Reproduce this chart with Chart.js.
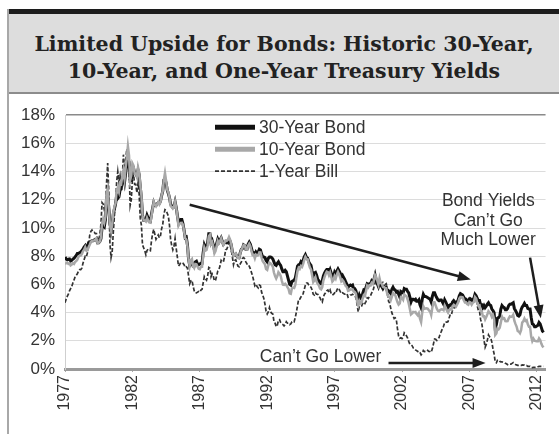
<!DOCTYPE html>
<html>
<head>
<meta charset="utf-8">
<script src="https://cdn.jsdelivr.net/npm/chart.js@4/dist/chart.umd.min.js"></script>
<style>
  html, body { margin: 0; padding: 0; background: #fff; }
  body { width: 559px; height: 434px; position: relative; overflow: hidden; }
  .topbar { position: absolute; left: 7px; top: 9px; right: 0; height: 5px; background: #1c1c1c; }
  .leftbar { position: absolute; left: 7px; top: 9px; bottom: 0; width: 2px; background: #a8a8a8; }
  .title {
    position: absolute; left: 9px; top: 14px; right: 0; height: 80px;
    box-sizing: border-box; padding-top: 17px;
    background: #dddddd; border-bottom: 2px solid #8c8c8c;
    font-family: "DejaVu Serif", serif; font-weight: bold; font-size: 20.5px;
    line-height: 27px; color: #222; text-align: center;
  }
  #wrap { position: absolute; left: 9px; top: 95px; }
</style>
</head>
<body>
<div class="topbar"></div>
<div class="leftbar"></div>
<div class="title">Limited Upside for Bonds: Historic 30-Year,<br>10-Year, and One-Year Treasury Yields</div>
<div id="wrap"><canvas id="chart" width="550" height="339"></canvas></div>
<script>
// monthly readings, first value = January 1977
const startYear = 1977;
const tickYears = [1977, 1982, 1987, 1992, 1997, 2002, 2007, 2012];
const seriesNames = ['30-Year Bond', '10-Year Bond', '1-Year Bill'];

const bond30 = [
  7.95, 7.80, 7.75, 7.78, 7.80, 7.65, 7.70, 7.80, 7.85, 7.95, 8.05, 8.20,
  8.20, 8.25, 8.30, 8.40, 8.50, 8.65, 8.75, 8.55, 8.70, 8.95, 8.95, 9.05,
  9.10, 9.10, 9.15, 9.20, 9.20, 8.95, 8.95, 9.05, 9.25, 10.05, 10.20, 10.10,
  10.60, 12.15, 12.50, 11.40, 10.35, 9.80, 10.25, 11.00, 11.35, 11.70, 12.30, 12.10,
  12.20, 12.70, 12.75, 13.40, 13.65, 13.25, 13.90, 14.50, 14.90, 14.70, 13.45, 13.40,
  14.20, 14.25, 13.90, 13.85, 13.70, 14.10, 13.80, 12.90, 12.15, 10.90, 10.55, 10.55,
  10.60, 10.90, 10.70, 10.55, 10.50, 11.00, 11.40, 11.80, 11.60, 11.60, 11.70, 11.80,
  11.75, 11.90, 12.30, 12.60, 13.40, 13.45, 13.20, 12.70, 12.45, 12.15, 11.70, 11.55,
  11.45, 11.50, 11.85, 11.45, 10.90, 10.40, 10.55, 10.60, 10.60, 10.30, 9.85, 9.30,
  9.35, 8.80, 7.80, 7.35, 7.50, 7.55, 7.30, 7.30, 7.60, 7.65, 7.45, 7.40,
  7.45, 7.50, 7.50, 8.25, 8.80, 8.60, 8.70, 8.95, 9.60, 9.60, 8.95, 9.10,
  8.80, 8.45, 8.60, 8.90, 9.20, 9.00, 9.15, 9.30, 9.05, 8.85, 8.95, 9.00,
  8.95, 9.00, 9.20, 9.05, 8.80, 8.30, 8.05, 8.10, 8.15, 8.00, 7.90, 7.90,
  8.25, 8.50, 8.55, 8.80, 8.75, 8.50, 8.50, 8.85, 9.00, 8.85, 8.55, 8.25,
  8.25, 8.10, 8.30, 8.20, 8.30, 8.50, 8.45, 8.15, 7.95, 7.95, 7.90, 7.70,
  7.60, 7.85, 7.95, 7.95, 7.90, 7.80, 7.60, 7.40, 7.35, 7.50, 7.60, 7.45,
  7.35, 7.10, 6.90, 6.90, 7.00, 6.90, 6.60, 6.30, 6.00, 5.95, 6.20, 6.25,
  6.30, 6.45, 6.85, 7.30, 7.40, 7.40, 7.60, 7.50, 7.70, 7.95, 8.10, 7.90,
  7.85, 7.60, 7.45, 7.35, 6.95, 6.60, 6.80, 6.85, 6.65, 6.35, 6.25, 6.05,
  6.05, 6.25, 6.60, 6.80, 6.95, 7.05, 7.05, 6.85, 7.05, 6.80, 6.50, 6.55,
  6.85, 6.70, 6.95, 7.10, 6.95, 6.80, 6.55, 6.65, 6.50, 6.35, 6.15, 6.00,
  5.80, 5.90, 5.95, 5.90, 5.95, 5.70, 5.70, 5.55, 5.20, 5.00, 5.25, 5.05,
  5.15, 5.35, 5.60, 5.55, 5.80, 6.05, 6.00, 6.05, 6.05, 6.25, 6.15, 6.35,
  6.65, 6.25, 6.05, 5.85, 6.15, 5.95, 5.85, 5.70, 5.85, 5.80, 5.80, 5.50,
  5.55, 5.45, 5.35, 5.65, 5.80, 5.65, 5.60, 5.45, 5.50, 5.30, 5.10, 5.50,
  5.45, 5.40, 5.70, 5.65, 5.65, 5.50, 5.40, 5.10, 4.75, 4.95, 4.95, 4.90,
  4.95, 4.80, 4.80, 4.90, 4.55, 4.35, 4.95, 5.30, 5.15, 5.15, 5.10, 5.05,
  5.00, 4.95, 4.75, 5.15, 5.40, 5.40, 5.20, 5.05, 4.90, 4.85, 4.90, 4.90,
  4.75, 4.60, 4.90, 4.75, 4.55, 4.35, 4.50, 4.55, 4.50, 4.75, 4.85, 4.75,
  4.65, 4.75, 4.90, 5.20, 5.35, 5.30, 5.25, 5.10, 4.95, 4.95, 4.80, 4.80,
  4.95, 4.95, 4.80, 4.95, 5.00, 5.30, 5.20, 5.00, 4.85, 4.85, 4.55, 4.55,
  4.35, 4.50, 4.35, 4.45, 4.60, 4.70, 4.55, 4.50, 4.25, 4.15, 4.00, 2.90,
  3.15, 3.60, 3.65, 3.75, 4.25, 4.50, 4.40, 4.35, 4.20, 4.20, 4.30, 4.50,
  4.60, 4.60, 4.65, 4.70, 4.30, 4.15, 4.00, 3.80, 3.75, 3.85, 4.20, 4.40,
  4.50, 4.65, 4.50, 4.50, 4.30, 4.25, 4.25, 3.65, 3.20, 3.15, 3.00, 3.00,
  3.05, 3.10, 3.30, 3.20, 2.95, 2.70, 2.60
];

const bond10 = [
  7.45, 7.50, 7.55, 7.45, 7.50, 7.35, 7.40, 7.50, 7.45, 7.60, 7.65, 7.75,
  7.96, 8.03, 8.04, 8.15, 8.35, 8.46, 8.64, 8.41, 8.42, 8.64, 8.81, 9.01,
  9.10, 9.10, 9.12, 9.18, 9.25, 8.91, 8.95, 9.03, 9.33, 10.30, 10.65, 10.39,
  10.80, 12.41, 12.75, 11.47, 10.18, 9.78, 10.25, 11.10, 11.51, 11.75, 12.68, 12.84,
  12.57, 13.19, 13.12, 13.68, 14.10, 13.47, 14.28, 14.94, 15.80, 15.15, 13.39, 13.72,
  14.59, 14.43, 13.86, 13.87, 13.62, 14.30, 13.95, 13.06, 12.34, 10.91, 10.55, 10.54,
  10.46, 10.72, 10.51, 10.40, 10.38, 10.85, 11.38, 11.85, 11.65, 11.54, 11.69, 11.83,
  11.67, 11.84, 12.32, 12.63, 13.41, 13.90, 13.36, 12.72, 12.52, 12.16, 11.57, 11.50,
  11.38, 11.51, 11.86, 11.43, 10.85, 10.16, 10.31, 10.33, 10.37, 10.24, 9.78, 9.26,
  9.19, 8.70, 7.78, 7.30, 7.71, 7.80, 7.30, 7.17, 7.45, 7.43, 7.25, 7.11,
  7.08, 7.25, 7.25, 8.02, 8.61, 8.40, 8.45, 8.76, 9.42, 9.52, 8.86, 8.99,
  8.67, 8.21, 8.37, 8.72, 9.09, 8.92, 9.06, 9.26, 8.98, 8.80, 8.96, 9.11,
  9.09, 9.17, 9.36, 9.18, 8.86, 8.28, 8.02, 8.11, 8.19, 8.01, 7.87, 7.84,
  8.21, 8.47, 8.59, 8.79, 8.76, 8.48, 8.47, 8.75, 8.89, 8.72, 8.39, 8.08,
  8.09, 7.85, 8.11, 8.04, 8.07, 8.28, 8.27, 7.90, 7.65, 7.53, 7.42, 7.09,
  7.03, 7.34, 7.54, 7.48, 7.39, 7.26, 6.84, 6.59, 6.42, 6.59, 6.87, 6.77,
  6.60, 6.26, 5.98, 5.97, 6.04, 5.96, 5.81, 5.68, 5.36, 5.33, 5.72, 5.77,
  5.75, 5.97, 6.48, 6.97, 7.18, 7.10, 7.30, 7.24, 7.46, 7.74, 7.96, 7.81,
  7.78, 7.47, 7.20, 7.06, 6.63, 6.17, 6.28, 6.49, 6.20, 6.04, 5.93, 5.71,
  5.65, 5.81, 6.27, 6.51, 6.74, 6.91, 6.87, 6.64, 6.83, 6.53, 6.20, 6.30,
  6.58, 6.42, 6.69, 6.89, 6.71, 6.49, 6.22, 6.30, 6.21, 6.03, 5.88, 5.81,
  5.54, 5.57, 5.65, 5.64, 5.65, 5.50, 5.46, 5.34, 4.81, 4.53, 4.83, 4.65,
  4.72, 5.00, 5.23, 5.18, 5.54, 5.90, 5.79, 5.94, 5.92, 6.11, 6.03, 6.28,
  6.66, 6.52, 6.26, 5.99, 6.44, 6.10, 6.05, 5.83, 5.80, 5.74, 5.72, 5.24,
  5.16, 5.10, 4.89, 5.14, 5.39, 5.28, 5.24, 4.97, 4.73, 4.57, 4.65, 5.09,
  5.04, 4.91, 5.28, 5.21, 5.16, 4.93, 4.65, 4.26, 3.87, 3.94, 4.05, 4.03,
  4.05, 3.90, 3.81, 3.96, 3.57, 3.33, 3.98, 4.45, 4.27, 4.29, 4.30, 4.27,
  4.15, 4.08, 3.83, 4.35, 4.72, 4.73, 4.50, 4.28, 4.13, 4.10, 4.19, 4.23,
  4.22, 4.17, 4.50, 4.34, 4.14, 4.00, 4.18, 4.26, 4.20, 4.46, 4.54, 4.47,
  4.42, 4.57, 4.72, 4.99, 5.11, 5.11, 5.09, 4.88, 4.72, 4.73, 4.60, 4.56,
  4.76, 4.72, 4.56, 4.69, 4.75, 5.10, 5.00, 4.67, 4.52, 4.53, 4.15, 4.10,
  3.74, 3.74, 3.51, 3.68, 3.88, 4.10, 4.01, 3.89, 3.69, 3.81, 3.53, 2.42,
  2.52, 2.87, 2.82, 2.93, 3.29, 3.72, 3.56, 3.59, 3.40, 3.39, 3.40, 3.59,
  3.73, 3.69, 3.73, 3.85, 3.42, 3.20, 3.01, 2.70, 2.65, 2.54, 2.76, 3.29,
  3.39, 3.58, 3.41, 3.46, 3.17, 3.00, 3.00, 2.30, 1.98, 2.15, 2.01, 1.98,
  1.97, 1.97, 2.17, 2.05, 1.80, 1.62, 1.53
];

const bill1 = [
  4.70, 4.95, 5.15, 5.30, 5.55, 5.70, 5.85, 6.10, 6.30, 6.55, 6.65, 6.75,
  6.95, 7.05, 7.05, 7.15, 7.50, 7.75, 8.00, 7.95, 8.25, 8.70, 9.50, 9.75,
  9.85, 9.70, 9.70, 9.60, 9.60, 9.10, 9.20, 9.50, 10.30, 11.80, 11.70, 11.30,
  11.40, 13.20, 14.60, 12.50, 8.90, 7.90, 8.30, 9.70, 10.90, 11.80, 13.30, 14.00,
  13.30, 13.70, 12.90, 13.50, 15.20, 14.00, 14.80, 15.60, 15.40, 14.40, 11.60, 12.00,
  13.40, 13.80, 13.10, 13.10, 12.50, 13.20, 12.40, 10.70, 10.20, 8.80, 8.60, 8.40,
  8.10, 8.40, 8.50, 8.45, 8.40, 9.10, 9.60, 9.90, 9.55, 9.20, 9.35, 9.50,
  9.30, 9.45, 9.95, 10.25, 10.95, 11.30, 11.25, 11.05, 10.85, 10.20, 9.20, 8.75,
  8.45, 8.70, 9.25, 8.55, 7.95, 7.30, 7.40, 7.55, 7.55, 7.50, 7.40, 7.20,
  7.25, 7.15, 6.60, 6.05, 6.25, 6.30, 5.90, 5.55, 5.40, 5.40, 5.45, 5.50,
  5.45, 5.60, 5.65, 6.10, 6.55, 6.40, 6.30, 6.60, 7.20, 7.15, 6.55, 6.75,
  6.60, 6.25, 6.30, 6.60, 6.95, 7.05, 7.30, 7.70, 7.60, 7.60, 7.95, 8.45,
  8.50, 8.70, 9.00, 8.80, 8.45, 7.95, 7.40, 7.70, 7.75, 7.50, 7.30, 7.25,
  7.45, 7.60, 7.85, 7.90, 7.80, 7.60, 7.45, 7.30, 7.30, 7.10, 6.85, 6.60,
  6.25, 5.90, 6.00, 5.85, 5.75, 5.95, 5.90, 5.45, 5.25, 5.00, 4.60, 4.10,
  3.90, 4.05, 4.35, 4.05, 3.95, 3.90, 3.40, 3.25, 3.00, 3.10, 3.45, 3.50,
  3.30, 3.20, 3.15, 3.05, 3.15, 3.35, 3.25, 3.25, 3.15, 3.20, 3.35, 3.40,
  3.35, 3.65, 4.05, 4.50, 4.95, 4.95, 5.10, 5.20, 5.35, 5.65, 5.95, 6.10,
  6.10, 5.95, 5.85, 5.80, 5.60, 5.30, 5.25, 5.40, 5.30, 5.30, 5.15, 5.05,
  4.85, 4.75, 5.10, 5.30, 5.40, 5.55, 5.60, 5.45, 5.60, 5.35, 5.25, 5.30,
  5.40, 5.35, 5.60, 5.75, 5.65, 5.50, 5.35, 5.40, 5.35, 5.30, 5.30, 5.35,
  5.10, 5.15, 5.25, 5.25, 5.30, 5.25, 5.20, 5.05, 4.60, 4.05, 4.45, 4.45,
  4.45, 4.65, 4.75, 4.65, 4.80, 5.05, 5.00, 5.15, 5.20, 5.40, 5.50, 5.80,
  6.10, 6.20, 6.20, 6.15, 6.35, 6.15, 6.05, 6.15, 6.10, 6.00, 6.05, 5.60,
  4.81, 4.68, 4.30, 3.98, 3.78, 3.58, 3.62, 3.47, 2.82, 2.33, 2.18, 2.22,
  2.16, 2.23, 2.57, 2.48, 2.35, 2.20, 1.96, 1.76, 1.72, 1.65, 1.49, 1.45,
  1.36, 1.30, 1.24, 1.27, 1.18, 1.01, 1.12, 1.31, 1.24, 1.25, 1.34, 1.31,
  1.24, 1.24, 1.19, 1.43, 1.78, 2.12, 2.10, 2.02, 2.12, 2.23, 2.50, 2.67,
  2.86, 3.03, 3.30, 3.32, 3.33, 3.36, 3.64, 3.87, 3.85, 4.18, 4.33, 4.35,
  4.45, 4.68, 4.77, 4.90, 5.00, 5.16, 5.22, 5.08, 4.97, 5.01, 5.01, 4.94,
  5.06, 5.05, 4.92, 4.93, 4.91, 4.96, 4.96, 4.47, 4.14, 4.10, 3.50, 3.26,
  2.71, 2.05, 1.54, 1.74, 2.06, 2.42, 2.28, 2.18, 1.91, 1.42, 1.07, 0.49,
  0.44, 0.62, 0.64, 0.55, 0.50, 0.51, 0.48, 0.46, 0.40, 0.37, 0.31, 0.37,
  0.35, 0.35, 0.40, 0.45, 0.37, 0.32, 0.29, 0.26, 0.26, 0.23, 0.25, 0.29,
  0.27, 0.29, 0.26, 0.25, 0.19, 0.18, 0.19, 0.11, 0.10, 0.11, 0.11, 0.12,
  0.12, 0.16, 0.19, 0.18, 0.19, 0.19, 0.19
];

const FONT = '"Liberation Sans", Arial, sans-serif';
const TEXT = '#333';

// month index -> decimal year
function toPoints(values) {
  return values.map((v, i) => ({ x: startYear + i / 12, y: v }));
}

function drawArrow(ctx, x1, y1, x2, y2) {
  const a = Math.atan2(y2 - y1, x2 - x1);
  const head = 13, half = 5;
  ctx.beginPath();
  ctx.moveTo(x1, y1);
  ctx.lineTo(x2 - Math.cos(a) * head * 0.8, y2 - Math.sin(a) * head * 0.8);
  ctx.stroke();
  ctx.beginPath();
  ctx.moveTo(x2, y2);
  ctx.lineTo(x2 - head * Math.cos(a) + half * Math.sin(a), y2 - head * Math.sin(a) - half * Math.cos(a));
  ctx.lineTo(x2 - head * Math.cos(a) - half * Math.sin(a), y2 - head * Math.sin(a) + half * Math.cos(a));
  ctx.closePath();
  ctx.fill();
}

// legend inside the plot, top middle
const insideLegend = {
  id: 'insideLegend',
  afterDatasetsDraw(chart) {
    const ctx = chart.ctx;
    const area = chart.chartArea;
    const x0 = area.left + 150, y0 = area.top + 12, rowH = 22;
    ctx.save();
    ctx.font = '17.5px ' + FONT;
    ctx.textBaseline = 'middle';
    chart.data.datasets.forEach((ds, i) => {
      const y = y0 + i * rowH;
      ctx.strokeStyle = ds.borderColor;
      ctx.lineWidth = ds.legendWidth;
      ctx.setLineDash(ds.borderDash || []);
      ctx.beginPath();
      ctx.moveTo(x0, y);
      ctx.lineTo(x0 + 40, y);
      ctx.stroke();
      ctx.setLineDash([]);
      ctx.fillStyle = TEXT;
      ctx.fillText(ds.label, x0 + 44, y + 1);
    });
    ctx.restore();
  }
};

// arrows and notes, placed in data units
const notes = {
  id: 'notes',
  afterDatasetsDraw(chart) {
    const ctx = chart.ctx;
    const xs = chart.scales.x, ys = chart.scales.y;
    const px = v => xs.getPixelForValue(v);
    const py = v => ys.getPixelForValue(v);
    ctx.save();
    ctx.strokeStyle = '#1e1e1e';
    ctx.fillStyle = '#1e1e1e';
    ctx.lineWidth = 2.5;
    drawArrow(ctx, px(1986.25), py(11.65), px(2007.1), py(6.35));
    drawArrow(ctx, px(2011.5), py(7.9), px(2012.3), py(3.6));
    drawArrow(ctx, px(2001.0), py(0.42), px(2008.2), py(0.42));

    ctx.fillStyle = TEXT;
    ctx.font = '17.5px ' + FONT;
    ctx.textBaseline = 'middle';
    ctx.textAlign = 'center';
    ctx.fillText('Bond Yields', px(2008.4), py(11.9));
    ctx.fillText('Can\u2019t Go', px(2008.4), py(10.5));
    ctx.fillText('Much Lower', px(2008.4), py(9.15));
    ctx.textAlign = 'left';
    ctx.fillText('Can\u2019t Go Lower', px(1991.45), py(0.85));
    ctx.restore();
  }
};

new Chart(document.getElementById('chart'), {
  type: 'line',
  data: {
    datasets: [
      { label: seriesNames[0], data: toPoints(bond30), borderColor: '#111', borderWidth: 3, legendWidth: 5, order: 1 },
      { label: seriesNames[1], data: toPoints(bond10), borderColor: '#a8a8a8', borderWidth: 2.5, legendWidth: 5, order: 0 },
      { label: seriesNames[2], data: toPoints(bill1), borderColor: '#333', borderWidth: 1.7, borderDash: [4, 2], legendWidth: 1.7, order: 2 }
    ]
  },
  options: {
    responsive: false,
    animation: false,
    layout: { padding: { top: 19, left: 0, right: 0, bottom: 0 } },
    elements: { point: { radius: 0 }, line: { tension: 0, fill: false } },
    plugins: { legend: { display: false }, tooltip: { enabled: false }, title: { display: false } },
    scales: {
      x: {
        type: 'linear',
        min: startYear,
        max: 2012.65,
        afterBuildTicks: axis => { axis.ticks = tickYears.map(v => ({ value: v })); },
        afterFit: axis => { axis.height = 65; },
        grid: { drawOnChartArea: false, drawTicks: true, tickLength: 3, color: '#aaa' },
        border: { color: '#9a9a9a', width: 3 },
        ticks: {
          minRotation: 90, maxRotation: 90, autoSkip: false, padding: 3,
          color: TEXT, font: { family: FONT, size: 16 },
          callback: v => String(v)
        }
      },
      y: {
        min: 0,
        max: 18,
        afterFit: axis => { axis.width = 56; },
        grid: {
          drawTicks: false,
          color: c => (c.tick && c.tick.value === 18 ? '#8a8a8a' : '#dcdcdc'),
          lineWidth: c => (c.tick && c.tick.value === 18 ? 1.5 : 1)
        },
        border: { color: '#cfcfcf', width: 1 },
        ticks: {
          stepSize: 2, padding: 10,
          color: TEXT, font: { family: FONT, size: 17 },
          callback: v => v + '%'
        }
      }
    }
  },
  plugins: [insideLegend, notes]
});
</script>
</body>
</html>
